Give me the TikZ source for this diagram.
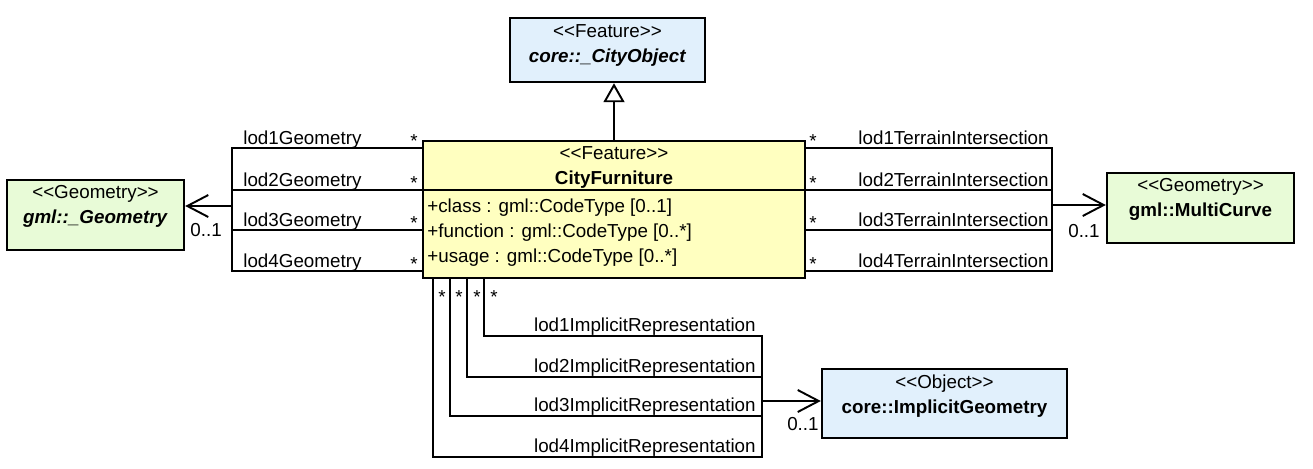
\documentclass[tikz,border=0pt]{standalone}
\usepackage{fontspec}
\setmainfont{Liberation Sans}
\usepackage{xcolor}
\usetikzlibrary{arrows.meta, positioning}
\definecolor{featureblue}{RGB}{225,240,252}
\definecolor{geometrygreen}{RGB}{232,251,215}
\definecolor{classyellow}{RGB}{255,255,192}
\newcommand{\stereo}[1]{<{}<#1>{}>}
\tikzset{
    classbox/.style={rectangle, draw=black, line width=1.4pt, inner sep=0pt},
    headtext/.style={align=center, inner sep=0pt, font=\fontsize{10.7}{14.2}\selectfont},
    attrtext/.style={align=left, inner sep=0pt, font=\fontsize{10.7}{14.2}\selectfont},
    rolelabel/.style={inner sep=0pt, font=\fontsize{10.7}{12}\selectfont},
    assoc/.style={line width=1.1pt},
    navarrow/.style={line width=1.1pt, -{Straight Barb[length=0.42cm, width=0.44cm]}},
    inherit/.style={line width=1.1pt, -{Triangle[open, length=0.38cm, width=0.42cm]}}
}
\begin{document}
\begin{tikzpicture}[x=0.02cm, y=-0.02cm]
    \useasboundingbox (0,0) rectangle (1313,468);

    % classes
    \node (cityobject) [classbox, fill=featureblue, minimum width=3.9cm, minimum height=1.28cm] at (607.5,50) {};
    \node (cityobjecttitle) [headtext, below=0.15cm of cityobject.north] {\stereo{Feature}\\ \textbf{\textit{core::\_CityObject}}};

    \node (cityfurniture) [classbox, fill=classyellow, minimum width=7.64cm, minimum height=2.74cm] at (614,209.5) {};
    \node (cityfurnituretitle) [headtext, below=0.13cm of cityfurniture.north] {\stereo{Feature}\\ \textbf{CityFurniture}};
    \draw [line width=1.4pt] (cityfurniture.west |- 0,190) -- (cityfurniture.east |- 0,190);
    \node (cityfurnitureattr) [attrtext, anchor=north west] at (427,199) {+class : gml::CodeType [0..1]\\ +function : gml::CodeType [0..*]\\ +usage : gml::CodeType [0..*]};

    \node (geometry) [classbox, fill=geometrygreen, minimum width=3.54cm, minimum height=1.4cm] at (95.5,215) {};
    \node (geometrytitle) [headtext, below=0.13cm of geometry.north] {\stereo{Geometry}\\ \textbf{\textit{gml::\_Geometry}}};

    \node (multicurve) [classbox, fill=geometrygreen, minimum width=3.74cm, minimum height=1.4cm] at (1200.5,208) {};
    \node (multicurvetitle) [headtext, below=0.13cm of multicurve.north] {\stereo{Geometry}\\ \textbf{gml::MultiCurve}};

    \node (implicit) [classbox, fill=featureblue, minimum width=4.9cm, minimum height=1.38cm] at (944.5,403.5) {};
    \node (implicittitle) [headtext, below=0.13cm of implicit.north] {\stereo{Object}\\ \textbf{core::ImplicitGeometry}};

    % generalisation
    \draw [inherit] (cityfurniture.north) -- (cityfurniture.north |- cityobject.south);

    % lod geometries
    \coordinate (lgeom1) at (232,148);
    \coordinate (lgeom2) at (232,190);
    \coordinate (lgeom3) at (232,230);
    \coordinate (lgeom4) at (232,271);
    \coordinate (lgeomjoin) at (232,206);
    \draw [assoc] (cityfurniture.west |- lgeom1) -- (lgeom1) -- (lgeomjoin);
    \draw [assoc] (cityfurniture.west |- lgeom2) -- (lgeom2) -- (lgeomjoin);
    \draw [assoc] (cityfurniture.west |- lgeom3) -- (lgeom3) -- (lgeomjoin);
    \draw [assoc] (cityfurniture.west |- lgeom4) -- (lgeom4) -- (lgeomjoin);
    \draw [navarrow] (lgeomjoin) -- (lgeomjoin -| geometry.east);

    \node (lod1geom) [rolelabel, anchor=base west] at (243,144) {lod1Geometry};
    \node (lod2geom) [rolelabel, anchor=base west] at (243,186) {lod2Geometry};
    \node (lod3geom) [rolelabel, anchor=base west] at (243,226) {lod3Geometry};
    \node (lod4geom) [rolelabel, anchor=base west] at (243,267) {lod4Geometry};
    \node (lod1geomstar) [rolelabel, anchor=base] at (414,147) {*};
    \node (lod2geomstar) [rolelabel, anchor=base] at (414,189) {*};
    \node (lod3geomstar) [rolelabel, anchor=base] at (414,229) {*};
    \node (lod4geomstar) [rolelabel, anchor=base] at (414,270) {*};
    \node (geommult) [rolelabel, anchor=base west] at (190,236) {0..1};

    % lod terrain intersections
    \coordinate (rterr1) at (1052,148);
    \coordinate (rterr2) at (1052,190);
    \coordinate (rterr3) at (1052,230);
    \coordinate (rterr4) at (1052,271);
    \coordinate (rterrjoin) at (1052,205);
    \draw [assoc] (cityfurniture.east |- rterr1) -- (rterr1) -- (rterrjoin);
    \draw [assoc] (cityfurniture.east |- rterr2) -- (rterr2) -- (rterrjoin);
    \draw [assoc] (cityfurniture.east |- rterr3) -- (rterr3) -- (rterrjoin);
    \draw [assoc] (cityfurniture.east |- rterr4) -- (rterr4) -- (rterrjoin);
    \draw [navarrow] (rterrjoin) -- (rterrjoin -| multicurve.west);

    \node (lod1terr) [rolelabel, anchor=base east] at (1049,144) {lod1TerrainIntersection};
    \node (lod2terr) [rolelabel, anchor=base east] at (1049,186) {lod2TerrainIntersection};
    \node (lod3terr) [rolelabel, anchor=base east] at (1049,226) {lod3TerrainIntersection};
    \node (lod4terr) [rolelabel, anchor=base east] at (1049,267) {lod4TerrainIntersection};
    \node (lod1terrstar) [rolelabel, anchor=base] at (813,147) {*};
    \node (lod2terrstar) [rolelabel, anchor=base] at (813,189) {*};
    \node (lod3terrstar) [rolelabel, anchor=base] at (813,229) {*};
    \node (lod4terrstar) [rolelabel, anchor=base] at (813,270) {*};
    \node (terrmult) [rolelabel, anchor=base east] at (1100,237) {0..1};

    % lod implicit representations
    \coordinate (limpl1) at (484,336);
    \coordinate (limpl2) at (467,377);
    \coordinate (limpl3) at (450,416);
    \coordinate (limpl4) at (433,457);
    \coordinate (rimpl1) at (762,336);
    \coordinate (rimpl2) at (762,377);
    \coordinate (rimpl3) at (762,416);
    \coordinate (rimpl4) at (762,457);
    \coordinate (rimpljoin) at (762,401);
    \draw [assoc] (cityfurniture.south -| limpl1) -- (limpl1) -- (rimpl1) -- (rimpljoin);
    \draw [assoc] (cityfurniture.south -| limpl2) -- (limpl2) -- (rimpl2) -- (rimpljoin);
    \draw [assoc] (cityfurniture.south -| limpl3) -- (limpl3) -- (rimpl3) -- (rimpljoin);
    \draw [assoc] (cityfurniture.south -| limpl4) -- (limpl4) -- (rimpl4) -- (rimpljoin);
    \draw [navarrow] (rimpljoin) -- (rimpljoin -| implicit.west);

    \node (lod1impl) [rolelabel, anchor=base east] at (756,331) {lod1ImplicitRepresentation};
    \node (lod2impl) [rolelabel, anchor=base east] at (756,372) {lod2ImplicitRepresentation};
    \node (lod3impl) [rolelabel, anchor=base east] at (756,411) {lod3ImplicitRepresentation};
    \node (lod4impl) [rolelabel, anchor=base east] at (756,452) {lod4ImplicitRepresentation};
    \node (lod1implstar) [rolelabel, anchor=base] at (494,303) {*};
    \node (lod2implstar) [rolelabel, anchor=base] at (477,303) {*};
    \node (lod3implstar) [rolelabel, anchor=base] at (459,303) {*};
    \node (lod4implstar) [rolelabel, anchor=base] at (442,303) {*};
    \node (implmult) [rolelabel, anchor=base east] at (819,430) {0..1};
\end{tikzpicture}
\end{document}
